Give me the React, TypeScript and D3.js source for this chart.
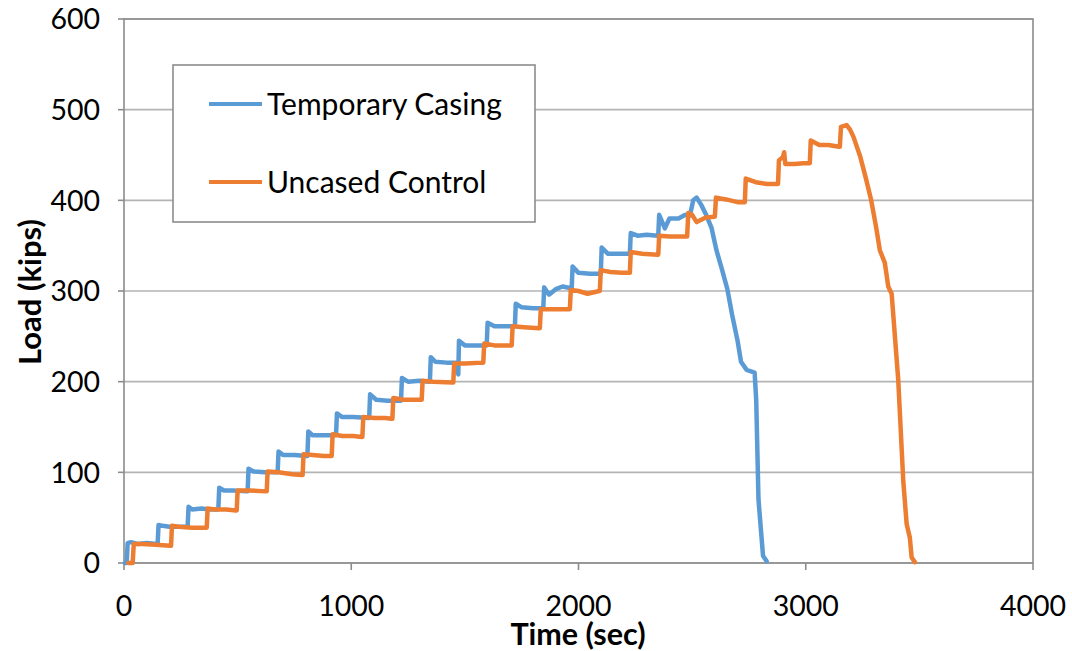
import React from "react";
import * as d3 from "d3";

const seriesNames = ["Temporary Casing", "Uncased Control"];
const seriesColors = ["#5B9BD5", "#ED7D31"];

const xTicks = [0, 1000, 2000, 3000, 4000];
const yTicks = [0, 100, 200, 300, 400, 500, 600];

// Temporary Casing: [time (sec), load (kips)]
const casingData: [number, number][] = [
  [4, 0], [12, 0], [16, 22], [30, 23], [60, 21], [100, 22], [145, 21],
  [148, 21], [152, 42], [170, 41], [200, 40], [240, 40], [277, 40],
  [280, 40], [284, 62], [300, 59], [340, 60], [380, 59], [412, 59],
  [415, 59], [419, 83], [440, 80], [480, 80], [541, 79],
  [544, 79], [548, 104], [570, 101], [620, 100], [673, 100],
  [676, 100], [680, 123], [700, 119], [750, 119], [804, 118],
  [807, 118], [811, 145], [830, 141], [880, 141], [930, 141],
  [933, 141], [937, 165], [960, 161], [1010, 161], [1076, 160],
  [1079, 160], [1083, 186], [1110, 180], [1160, 179], [1216, 179],
  [1219, 179], [1223, 204], [1250, 200], [1300, 201], [1343, 200],
  [1346, 200], [1350, 227], [1370, 222], [1420, 221], [1468, 221],
  [1471, 208], [1474, 245], [1500, 240], [1550, 240], [1593, 240],
  [1596, 240], [1600, 265], [1630, 261], [1680, 261], [1717, 261],
  [1720, 261], [1724, 286], [1750, 282], [1800, 281], [1842, 281],
  [1845, 281], [1849, 304], [1870, 296], [1900, 302], [1930, 305], [1967, 303],
  [1970, 303], [1974, 327], [2000, 320], [2050, 319], [2095, 319],
  [2098, 319], [2102, 348], [2130, 341], [2180, 341], [2223, 341],
  [2226, 341], [2230, 364], [2260, 361], [2300, 362], [2348, 361],
  [2351, 361], [2355, 384], [2380, 369], [2400, 380], [2440, 380], [2470, 384], [2487, 383],
  [2490, 383], [2505, 400], [2520, 403], [2540, 395], [2560, 385], [2585, 370],
  [2607, 345], [2630, 325], [2655, 302], [2675, 275], [2700, 245], [2715, 222],
  [2740, 213], [2775, 210], [2782, 180], [2792, 70], [2812, 8], [2828, 2],
];

// Uncased Control: [time (sec), load (kips)]
const controlData: [number, number][] = [
  [19, 0], [38, 0], [43, 21], [80, 21], [140, 20], [204, 19],
  [207, 19], [211, 41], [240, 40], [300, 39], [361, 39],
  [364, 39], [368, 60], [400, 59], [450, 59], [493, 58],
  [496, 58], [500, 80], [550, 80], [625, 79],
  [628, 79], [632, 101], [680, 100], [740, 98], [783, 97],
  [786, 97], [790, 120], [830, 119], [880, 118], [911, 118],
  [914, 118], [918, 142], [960, 140], [1010, 140], [1046, 139],
  [1049, 139], [1053, 161], [1100, 160], [1150, 160], [1178, 159],
  [1181, 159], [1185, 182], [1230, 180], [1280, 180], [1310, 180],
  [1314, 201], [1360, 200], [1446, 199],
  [1449, 199], [1453, 220], [1500, 220], [1578, 221],
  [1581, 221], [1585, 242], [1630, 240], [1703, 240],
  [1706, 240], [1710, 261], [1760, 260], [1827, 259],
  [1830, 259], [1834, 280], [1880, 280], [1959, 280],
  [1962, 280], [1966, 301], [2000, 300], [2040, 297], [2091, 300],
  [2094, 300], [2098, 323], [2140, 321], [2190, 320], [2223, 320],
  [2226, 320], [2230, 343], [2280, 341], [2348, 340],
  [2351, 340], [2355, 361], [2400, 360], [2475, 360],
  [2478, 360], [2483, 386], [2500, 384], [2520, 376], [2560, 381], [2597, 382],
  [2600, 382], [2605, 403], [2650, 401], [2700, 398], [2729, 398],
  [2732, 398], [2736, 424], [2780, 420], [2830, 418], [2875, 418],
  [2878, 418], [2882, 444], [2900, 448], [2905, 453], [2910, 440], [2950, 440], [2990, 441], [3015, 441],
  [3018, 441], [3022, 466], [3060, 461], [3100, 461], [3147, 459],
  [3150, 459], [3155, 481], [3180, 483], [3195, 478], [3210, 470], [3240, 448],
  [3265, 424], [3288, 400], [3310, 370], [3326, 345], [3348, 331], [3363, 305],
  [3378, 297], [3407, 202], [3429, 91], [3444, 43], [3458, 28], [3466, 6], [3480, 1],
];

const allSeries = [casingData, controlData];

const W = 1072;
const H = 651;
const left = 124;
const right = 1033;
const top = 19;
const bottom = 563;
const FONT = "Lato, 'Open Sans', sans-serif";

export default function App() {
  const x = d3.scaleLinear().domain([0, 4000]).range([left, right]);
  const y = d3.scaleLinear().domain([0, 600]).range([bottom, top]);
  const line = d3
    .line<[number, number]>()
    .x((d) => x(d[0]))
    .y((d) => y(d[1]));

  return (
    <svg
      width={W}
      height={H}
      style={{ position: "absolute", left: 0, top: 0, background: "#fff" }}
      fontFamily={FONT}
    >
      {yTicks.map((t) => (
        <line key={"g" + t} x1={left} x2={right} y1={y(t)} y2={y(t)} stroke="#b3b3b3" strokeWidth={1.6} />
      ))}
      <rect x={left} y={top} width={right - left} height={bottom - top} fill="none" stroke="#8c8c8c" strokeWidth={1.6} />
      {yTicks.map((t) => (
        <g key={"y" + t}>
          <line x1={left - 6} x2={left} y1={y(t)} y2={y(t)} stroke="#8c8c8c" strokeWidth={1.6} />
          <text x={100} y={y(t)} dy="0.36em" textAnchor="end" fontSize={28.5} fill="#000">
            {t}
          </text>
        </g>
      ))}
      {xTicks.map((t) => (
        <g key={"x" + t}>
          <line x1={x(t)} x2={x(t)} y1={bottom} y2={bottom + 7} stroke="#8c8c8c" strokeWidth={1.6} />
          <text x={x(t)} y={606} dy="0.36em" textAnchor="middle" fontSize={28.5} fill="#000">
            {t}
          </text>
        </g>
      ))}
      {allSeries.map((s, i) => (
        <path
          key={"s" + i}
          d={line(s) || ""}
          fill="none"
          stroke={seriesColors[i]}
          strokeWidth={4.5}
          strokeLinejoin="round"
          strokeLinecap="round"
        />
      ))}
      <text x={578} y={635} dy="0.34em" textAnchor="middle" fontSize={30.5} fontWeight="bold" fill="#000">
        Time (sec)
      </text>
      <text
        transform={`translate(30,292) rotate(-90)`}
        dy="0.36em"
        textAnchor="middle"
        fontSize={31}
        fontWeight="bold"
        fill="#000"
      >
        Load (kips)
      </text>
      <rect x={173} y={65} width={362} height={157} fill="#fff" stroke="#8c8c8c" strokeWidth={1.6} />
      {seriesNames.map((n, i) => (
        <g key={"l" + i}>
          <line x1={209} x2={262} y1={104 + i * 78} y2={104 + i * 78} stroke={seriesColors[i]} strokeWidth={4} />
          <text x={267} y={104 + i * 78} dy="0.36em" fontSize={30} fill="#000">
            {n}
          </text>
        </g>
      ))}
    </svg>
  );
}
